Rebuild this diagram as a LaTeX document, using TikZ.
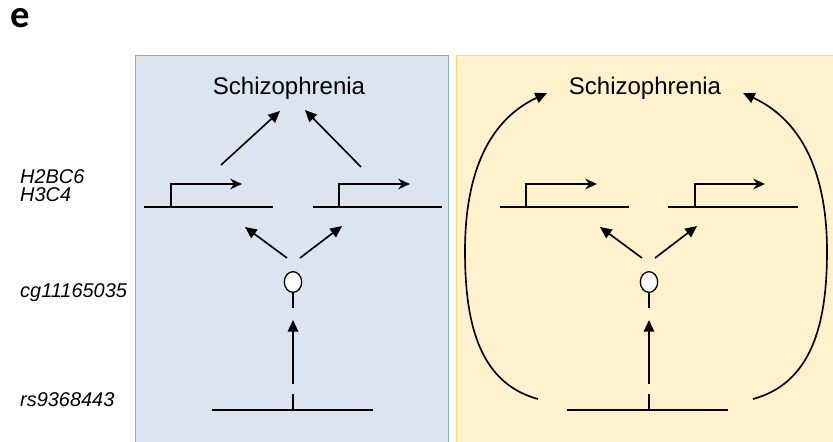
\documentclass[tikz,border=0pt]{standalone}
\usepackage{fontspec}
\setmainfont{Liberation Sans}
\newfontfamily\panelfont{Carlito}
\usepackage{tikz}
\usetikzlibrary{arrows.meta,shapes.geometric}
\definecolor{bluefill}{HTML}{DCE4EF}
\definecolor{blueline}{HTML}{8EAADB}
\definecolor{yellowfill}{HTML}{FFF2CC}
\definecolor{yellowline}{HTML}{FFD966}

\begin{document}
\begin{tikzpicture}[
				x=0.03cm,
				y=0.03cm,
				panel/.style={
					line width=0.8pt
				},
				strand/.style={
					draw=black,
					line width=1.4pt
				},
				edge/.style={
					strand,
					-{Triangle[length=10pt,width=9pt]}
				},
				tss/.style={
					strand,
					-{Stealth[length=10pt,width=9pt]}
				},
				cpg/.style={
					ellipse,
					draw=black,
					fill=white,
					line width=1.1pt,
					minimum width=0.52cm,
					minimum height=0.62cm,
					inner sep=0pt
				},
				trait/.style={
					font=\fontsize{20.5}{24}\selectfont,
					anchor=base,
					inner sep=0pt
				},
				level/.style={
					font=\fontsize{17}{15.5}\selectfont\itshape,
					anchor=base west,
					align=left,
					inner sep=0pt
				}
			]

				\useasboundingbox (0,0) rectangle (833,441);

				\draw[panel, draw=blueline, fill=bluefill] (135,-5) rectangle (448,386);
				\draw[panel, draw=yellowline, fill=yellowfill] (456,-5) rectangle (840,386);

				\node[font=\panelfont\fontsize{33}{36}\selectfont\bfseries, anchor=base west, inner sep=0pt] (tag) at (10,413) {e};

				\node[level] (genes) at (20,239) {H2BC6\\H3C4};
				\node[level] (probe) at (20,143) {cg11165035};
				\node[level] (snp) at (20,35) {rs9368443};

				\node[trait] (Ltrait) at (289,346) {Schizophrenia};
				\node[trait] (Rtrait) at (645,346) {Schizophrenia};

				\node[cpg] (Lcpg) at (293,159) {};
				\node[cpg] (Rcpg) at (649,159) {};

				\coordinate (La1) at (144,234);
				\coordinate (La2) at (273,234);
				\coordinate (Lp1) at (171,234);
				\coordinate (Lt1) at (242,257);
				\coordinate (Lb1) at (313,234);
				\coordinate (Lb2) at (442,234);
				\coordinate (Lp2) at (339,234);
				\coordinate (Lt2) at (410,257);
				\coordinate (Lu1) at (221,276);
				\coordinate (Lv1) at (280,330);
				\coordinate (Lu2) at (361,274);
				\coordinate (Lv2) at (305,331);
				\coordinate (Lm1) at (287,183);
				\coordinate (Ln1) at (245,214);
				\coordinate (Lm2) at (300,183);
				\coordinate (Ln2) at (342,215);
				\coordinate (Ls1) at (293,133);
				\coordinate (Ls2) at (293,121);
				\coordinate (Ls3) at (293,57);
				\coordinate (Ls4) at (293,47);
				\coordinate (Ls5) at (293,31);
				\coordinate (Lx1) at (212,31);
				\coordinate (Lx2) at (373,31);

				\coordinate (Ra1) at (500,234);
				\coordinate (Ra2) at (629,234);
				\coordinate (Rp1) at (526,234);
				\coordinate (Rt1) at (597,257);
				\coordinate (Rb1) at (668,234);
				\coordinate (Rb2) at (798,234);
				\coordinate (Rp2) at (695,234);
				\coordinate (Rt2) at (765,257);
				\coordinate (Rm1) at (642,183);
				\coordinate (Rn1) at (600,214);
				\coordinate (Rm2) at (655,183);
				\coordinate (Rn2) at (697,215);
				\coordinate (Rs1) at (649,133);
				\coordinate (Rs2) at (649,121);
				\coordinate (Rs3) at (649,57);
				\coordinate (Rs4) at (649,47);
				\coordinate (Rs5) at (649,31);
				\coordinate (Rx1) at (567,31);
				\coordinate (Rx2) at (728,31);
				\coordinate (Rc1) at (538,42);
				\coordinate (Rk1) at (465,190);
				\coordinate (Rd1) at (547,348);
				\coordinate (Rc2) at (753,42);
				\coordinate (Rk2) at (827,190);
				\coordinate (Rd2) at (743,348);

				\draw[strand] (La1) -- (La2);
				\draw[strand] (Lb1) -- (Lb2);
				\draw[tss] (Lp1) |- (Lt1);
				\draw[tss] (Lp2) |- (Lt2);
				\draw[edge] (Lu1) -- (Lv1);
				\draw[edge] (Lu2) -- (Lv2);
				\draw[edge] (Lm1) -- (Ln1);
				\draw[edge] (Lm2) -- (Ln2);
				\draw[strand] (Lcpg.south) -- (Ls1);
				\draw[edge] (Ls3) -- (Ls2);
				\draw[strand] (Ls4) -- (Ls5);
				\draw[strand] (Lx1) -- (Lx2);

				\draw[strand] (Ra1) -- (Ra2);
				\draw[strand] (Rb1) -- (Rb2);
				\draw[tss] (Rp1) |- (Rt1);
				\draw[tss] (Rp2) |- (Rt2);
				\draw[edge] (Rm1) -- (Rn1);
				\draw[edge] (Rm2) -- (Rn2);
				\draw[strand] (Rcpg.south) -- (Rs1);
				\draw[edge] (Rs3) -- (Rs2);
				\draw[strand] (Rs4) -- (Rs5);
				\draw[strand] (Rx1) -- (Rx2);

				\draw[edge]
					(Rc1) to[out=165, in=-90] (Rk1) to[out=90, in=205] (Rd1);

				\draw[edge]
					(Rc2) to[out=15, in=-90] (Rk2) to[out=90, in=-25] (Rd2);

			\end{tikzpicture}
\end{document}
